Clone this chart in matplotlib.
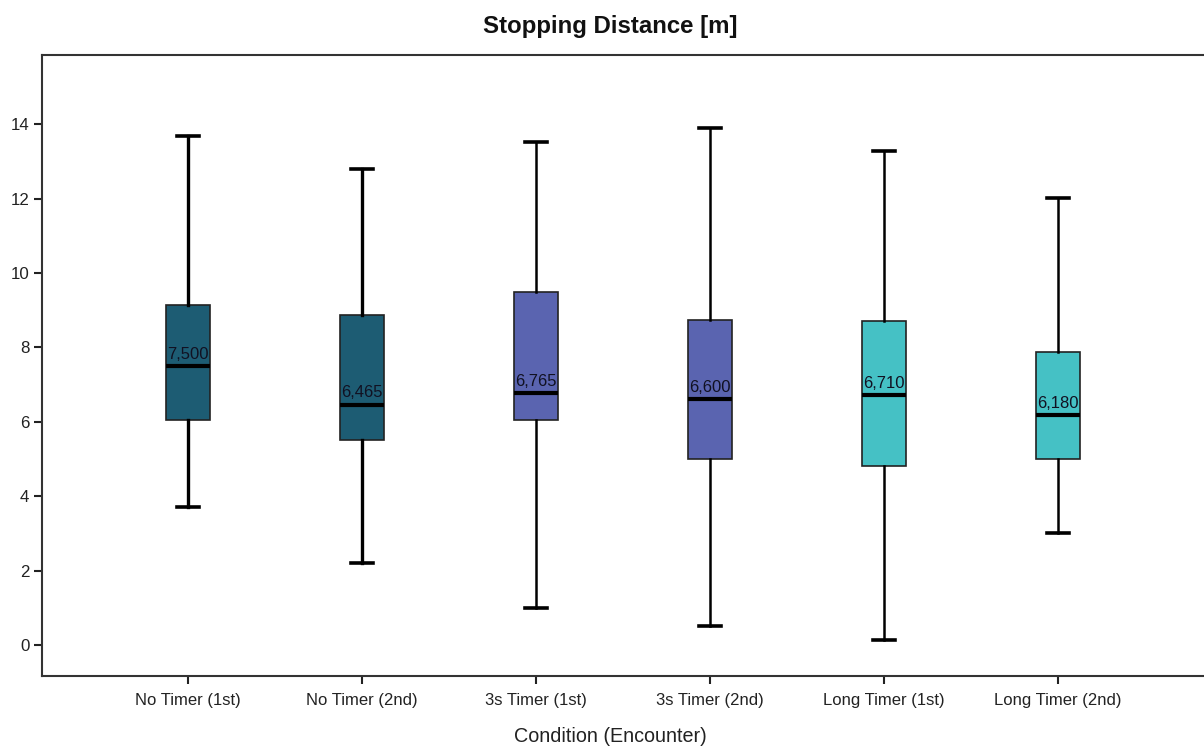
import matplotlib
matplotlib.use("Agg")
import matplotlib.pyplot as plt
from matplotlib import font_manager

categories = ["No Timer (1st)", "No Timer (2nd)", "3s Timer (1st)",
              "3s Timer (2nd)", "Long Timer (1st)", "Long Timer (2nd)"]
whisker_low = [3.72, 2.20, 0.99, 0.51, 0.13, 3.01]
q1 = [6.05, 5.51, 6.05, 5.00, 4.81, 5.00]
medians = [7.500, 6.465, 6.765, 6.600, 6.710, 6.180]
q3 = [9.14, 8.87, 9.49, 8.74, 8.71, 7.88]
whisker_high = [13.68, 12.80, 13.52, 13.90, 13.28, 12.02]
colors = ["#1D5C73", "#1D5C73", "#5A64B0", "#5A64B0", "#45C1C5", "#45C1C5"]
yticks = [0, 2, 4, 6, 8, 10, 12, 14]

names = {f.name for f in font_manager.fontManager.ttflist}
narrow = "Liberation Sans Narrow" if "Liberation Sans Narrow" in names else "Liberation Sans"
plt.rcParams["font.family"] = [narrow, "DejaVu Sans"]

fig = plt.figure(figsize=(12.04, 7.49), dpi=100)
ax = fig.add_axes([42 / 1204, 73 / 749, (1208 - 42) / 1204, (676 - 55) / 749])

stats = []
for i in range(len(categories)):
    stats.append(dict(med=medians[i], q1=q1[i], q3=q3[i],
                      whislo=whisker_low[i], whishi=whisker_high[i],
                      fliers=[], label=categories[i]))

positions = list(range(len(categories)))
bp = ax.bxp(stats, positions=positions, widths=0.252, capwidths=0.126,
            patch_artist=True, showfliers=False,
            medianprops=dict(color="black", linewidth=3),
            boxprops=dict(edgecolor="#222222", linewidth=1.2),
            whiskerprops=dict(color="black", linewidth=1.8),
            capprops=dict(color="black", linewidth=2.6))
for patch, c in zip(bp["boxes"], colors):
    patch.set_facecolor(c)
for i, w in enumerate(bp["whiskers"]):
    if i < 4:
        w.set_linewidth(2.4)

for x, m in zip(positions, medians):
    ax.annotate(f"{m:.3f}".replace(".", ","), xy=(x, m), xytext=(0, 3),
                textcoords="offset points", ha="center", va="bottom",
                fontsize=12, color="#111122", family=[narrow, "DejaVu Sans"])

ax.set_xlim(-0.836, 5.86)
ax.set_ylim(-0.833, 15.86)
ax.set_yticks(yticks)
ax.set_yticklabels([str(v) for v in yticks])
ax.set_xticks(positions)
ax.set_xticklabels(categories)
ax.tick_params(axis="both", direction="out", length=6, width=1.5, colors="#222222",
               labelcolor="#222222")
ax.tick_params(axis="x", pad=6, labelsize=12)
ax.tick_params(axis="y", pad=3, labelsize=12.2)
for s in ["left", "bottom", "top"]:
    ax.spines[s].set_linewidth(1.5)
    ax.spines[s].set_color("#333333")
ax.spines["right"].set_visible(False)

fig.text(610 / 1204, 1 - 737 / 749, "Condition (Encounter)", ha="center", va="center",
         fontsize=14.2, color="#222222")
fig.text(610 / 1204, 1 - 27 / 749, "Stopping Distance [m]", ha="center", va="center",
         fontsize=17.3, fontweight="bold", color="#111111")

fig.savefig("out.png", dpi=100)
